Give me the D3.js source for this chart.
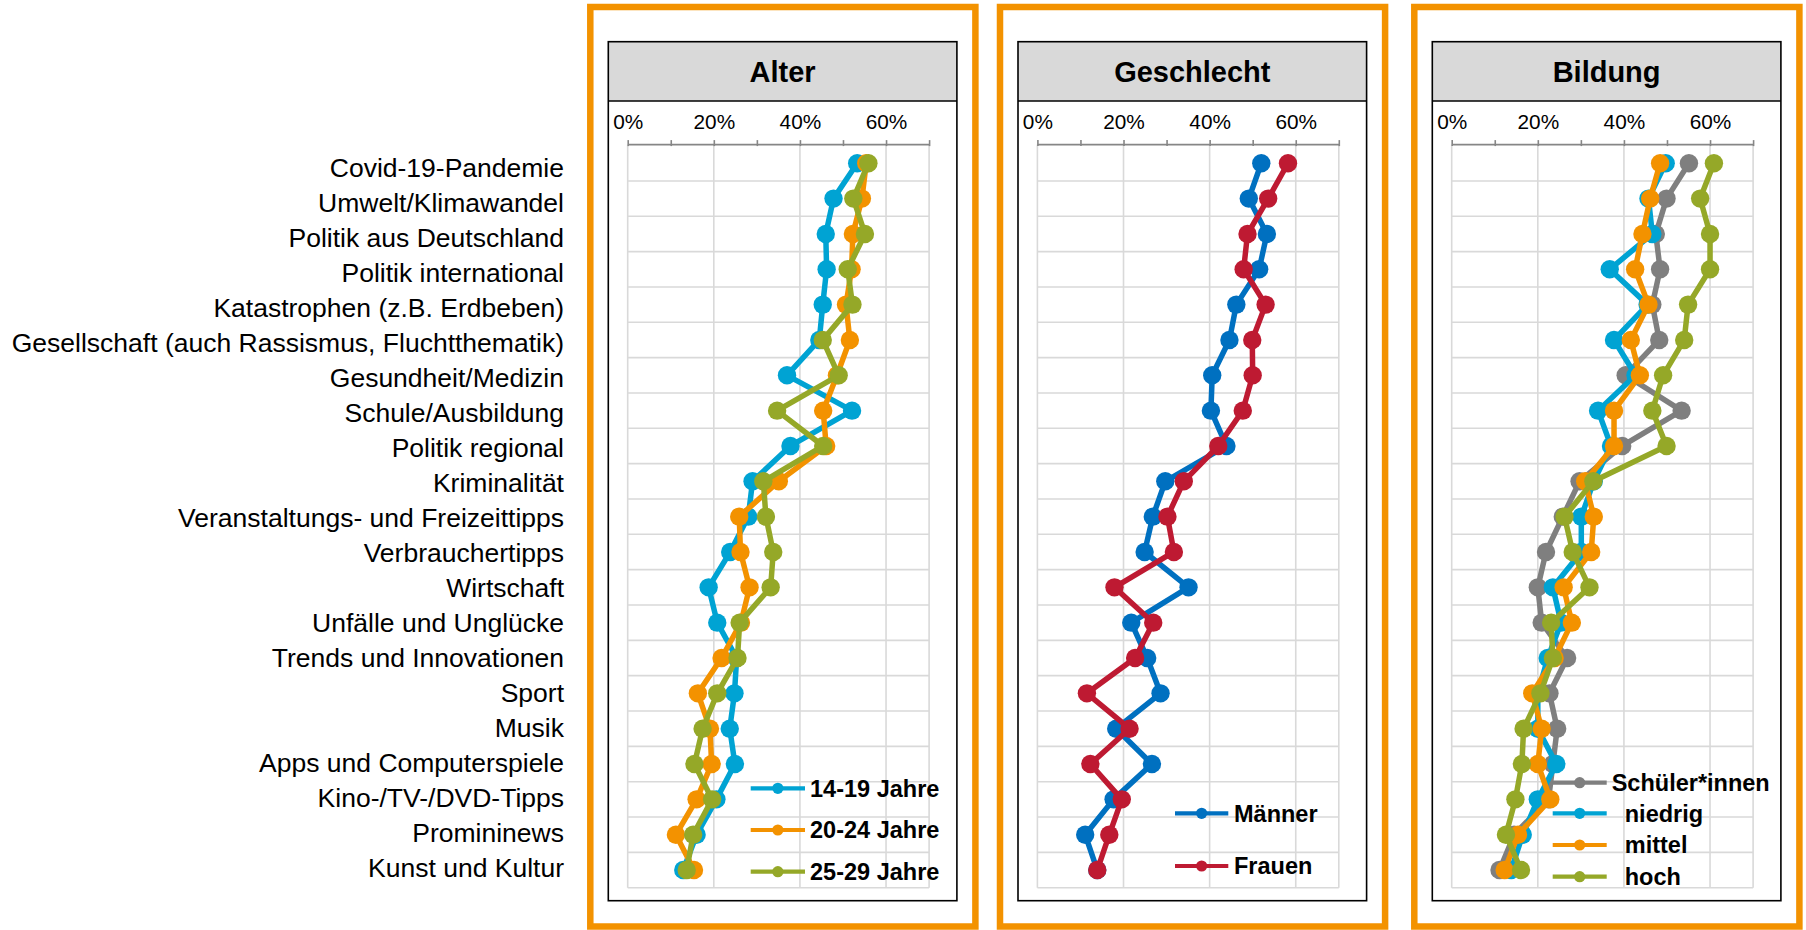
<!DOCTYPE html>
<html lang="de">
<head>
<meta charset="utf-8">
<title>Themeninteressen nach Alter, Geschlecht und Bildung</title>
<script src="https://cdn.jsdelivr.net/npm/d3@7"></script>
<style>
  html, body { margin: 0; padding: 0; background: #ffffff; }
  svg { display: block; font-family: "Liberation Sans", Arial, sans-serif; }
</style>
</head>
<body>
<svg id="chart" width="1806" height="930"></svg>
<script>
// Themen (Zeilen, von oben nach unten)
const categories = [
  "Covid-19-Pandemie",
  "Umwelt/Klimawandel",
  "Politik aus Deutschland",
  "Politik international",
  "Katastrophen (z.B. Erdbeben)",
  "Gesellschaft (auch Rassismus, Fluchtthematik)",
  "Gesundheit/Medizin",
  "Schule/Ausbildung",
  "Politik regional",
  "Kriminalität",
  "Veranstaltungs- und Freizeittipps",
  "Verbrauchertipps",
  "Wirtschaft",
  "Unfälle und Unglücke",
  "Trends und Innovationen",
  "Sport",
  "Musik",
  "Apps und Computerspiele",
  "Kino-/TV-/DVD-Tipps",
  "Promininews",
  "Kunst und Kultur"
];

// Achsenbeschriftung
const tickValues = [0, 10, 20, 30, 40, 50, 60, 70];
const tickLabels = ["0%", "", "20%", "", "40%", "", "60%", ""];
const panelTitles = ["Alter", "Geschlecht", "Bildung"];

// Alter (Anteil in %)
const alter1419 = [53.3, 47.8, 46.0, 46.2, 45.3, 44.5, 37.0, 52.1, 37.8, 29.0, 28.0, 23.8, 18.8, 20.8, 25.3, 24.8, 23.7, 24.9, 20.6, 16.0, 12.9];
const alter2024 = [55.4, 54.4, 52.3, 52.0, 50.7, 51.6, 48.6, 45.4, 46.1, 35.1, 25.9, 26.2, 28.3, 26.3, 21.8, 16.3, 19.1, 19.5, 16.0, 11.2, 15.4];
const alter2529 = [55.9, 52.4, 55.1, 51.1, 52.2, 45.3, 49.0, 34.7, 45.4, 31.5, 32.1, 33.8, 33.2, 26.0, 25.5, 20.8, 17.4, 15.5, 19.6, 15.2, 13.7];

// Geschlecht (Anteil in %)
const maenner = [52.0, 49.1, 53.3, 51.5, 46.2, 44.6, 40.6, 40.3, 43.9, 29.7, 26.8, 24.9, 35.1, 21.8, 25.5, 28.6, 18.3, 26.6, 17.7, 11.1, 13.9];
const frauen  = [58.2, 53.6, 48.8, 47.9, 53.0, 49.9, 50.0, 47.7, 42.0, 34.0, 30.2, 31.7, 17.9, 26.9, 22.7, 11.5, 21.4, 12.3, 19.6, 16.7, 13.9];

// Bildung (Anteil in %)
const schueler = [55.1, 49.9, 47.4, 48.4, 46.6, 48.2, 40.4, 53.4, 39.6, 29.7, 25.8, 21.9, 20.0, 20.9, 26.8, 22.7, 24.5, 23.5, 22.5, 14.5, 11.1];
const niedrig  = [49.7, 45.7, 46.6, 36.7, 45.5, 37.7, 42.7, 34.0, 37.0, 33.0, 30.1, 30.1, 23.5, 25.4, 22.3, 20.0, 20.0, 24.3, 20.0, 16.5, 13.8];
const mittel   = [48.4, 46.1, 44.3, 42.6, 45.7, 41.6, 43.7, 37.7, 37.7, 31.0, 33.0, 32.4, 26.0, 27.9, 23.9, 18.7, 20.9, 20.0, 22.9, 15.4, 12.3];
const hoch     = [60.9, 57.7, 60.0, 60.0, 54.9, 54.0, 49.1, 46.6, 49.9, 32.9, 26.2, 28.1, 32.0, 23.1, 23.5, 20.6, 16.7, 16.3, 14.8, 12.6, 16.1];

// Serienbezeichnungen und Farben
const alterNames   = ["14-19 Jahre", "20-24 Jahre", "25-29 Jahre"];
const alterColors  = ["#00a3d3", "#f39200", "#95a828"];
const geschlechtNames  = ["Männer", "Frauen"];
const geschlechtColors = ["#0070c0", "#be1a32"];
const bildungNames  = ["Schüler*innen", "  niedrig", "  mittel", "  hoch"];
const bildungColors = ["#7f7f7f", "#00a3d3", "#f39200", "#95a828"];

const panels = [
  { title: panelTitles[0], names: alterNames, colors: alterColors, values: [alter1419, alter2024, alter2529],
    boxLeft: 608.3, legend: { x1: 142.4, x2: 196.7, tx: 201.7, ys: [788.3, 830, 871.7] } },
  { title: panelTitles[1], names: geschlechtNames, colors: geschlechtColors, values: [maenner, frauen],
    boxLeft: 1018, legend: { x1: 157, x2: 210.3, tx: 216, ys: [813.3, 866] } },
  { title: panelTitles[2], names: bildungNames, colors: bildungColors, values: [schueler, niedrig, mittel, hoch],
    boxLeft: 1432.3, legend: { x1: 120.4, x2: 174.4, tx: 179.4, ys: [782.7, 813.3, 845, 876.7] } }
];

const svg = d3.select("#chart");
const frameColor = "#f39200";
const gridColor = "#d9d9d9";

const boxW = 348.6, boxTop = 41.7, headerBottom = 101, boxBottom = 900.7;
const plotTop = 145.6, plotBottom = 887.7;

const y = d3.scaleBand().domain(categories).range([plotTop, plotBottom]).paddingInner(0).paddingOuter(0);
const yc = d => y(d) + y.bandwidth() / 2;

// Themenbeschriftung links (eigene Spalte, gleichmäßig verteilt)
const yLabel = d3.scalePoint().domain(categories).range([167.5, 867.5]);
svg.append("g").selectAll("text")
  .data(categories).join("text")
  .attr("x", 564)
  .attr("y", d => yLabel(d))
  .attr("dy", "0.35em")
  .attr("text-anchor", "end")
  .attr("font-size", 26.5)
  .attr("fill", "#000")
  .text(d => d);

panels.forEach(p => {
  const g = svg.append("g");
  const L = p.boxLeft;
  const x = d3.scaleLinear().domain([0, 70]).range([L + 19.4, L + 19.4 + 301.4]);

  // orangefarbener Rahmen
  g.append("rect")
    .attr("x", L - 18).attr("y", 7)
    .attr("width", boxW + 36.5).attr("height", 919.5)
    .attr("fill", "none").attr("stroke", frameColor).attr("stroke-width", 6.5);

  // Kopfzeile
  g.append("rect")
    .attr("x", L).attr("y", boxTop)
    .attr("width", boxW).attr("height", headerBottom - boxTop)
    .attr("fill", "#d9d9d9");
  g.append("text")
    .attr("x", L + boxW / 2).attr("y", (boxTop + headerBottom) / 2)
    .attr("dy", "0.35em").attr("text-anchor", "middle")
    .attr("font-size", 29).attr("font-weight", "bold")
    .text(p.title);

  // Gitternetz
  const grid = g.append("g");
  grid.selectAll("line.h")
    .data(categories.slice(1).map(c => y(c)).concat([plotBottom]))
    .join("line")
    .attr("x1", x(0)).attr("x2", x(70))
    .attr("y1", d => d).attr("y2", d => d)
    .attr("stroke", gridColor).attr("stroke-width", 1.6);
  grid.selectAll("line.v")
    .data([0, 20, 40, 60, 70])
    .join("line")
    .attr("x1", d => x(d)).attr("x2", d => x(d))
    .attr("y1", plotTop - 1).attr("y2", plotBottom)
    .attr("stroke", gridColor).attr("stroke-width", 1.6);

  // x-Achse oben
  const axis = d3.axisTop(x)
    .tickValues(tickValues)
    .tickFormat((d, i) => tickLabels[i])
    .tickSize(4)
    .tickPadding(11)
    .tickSizeOuter(0);
  const ag = g.append("g").attr("transform", `translate(0,${plotTop - 1.5})`).call(axis);
  ag.select(".domain").attr("stroke", "#868686").attr("stroke-width", 1.6);
  ag.selectAll(".tick line").attr("stroke", "#868686").attr("stroke-width", 1.6).attr("y2", -4).attr("y1", 2);
  ag.selectAll(".tick text")
    .attr("font-size", 20.8)
    .attr("font-family", "'Liberation Sans', Arial, sans-serif")
    .attr("fill", "#000");

  // Rahmen des Diagramms
  g.append("rect")
    .attr("x", L).attr("y", boxTop)
    .attr("width", boxW).attr("height", boxBottom - boxTop)
    .attr("fill", "none").attr("stroke", "#000").attr("stroke-width", 1.6);
  g.append("line")
    .attr("x1", L).attr("x2", L + boxW)
    .attr("y1", headerBottom).attr("y2", headerBottom)
    .attr("stroke", "#000").attr("stroke-width", 1.6);

  // Linien mit Markern
  const line = d3.line()
    .x(d => x(d.v))
    .y(d => yc(d.c));
  p.values.forEach((vals, si) => {
    const pts = vals.map((v, i) => ({ v, c: categories[i] }));
    const sg = g.append("g");
    sg.append("path")
      .datum(pts)
      .attr("d", line)
      .attr("fill", "none")
      .attr("stroke", p.colors[si])
      .attr("stroke-width", 5.5)
      .attr("stroke-linejoin", "round");
    sg.selectAll("circle")
      .data(pts).join("circle")
      .attr("cx", d => x(d.v))
      .attr("cy", d => yc(d.c))
      .attr("r", 9.2)
      .attr("fill", p.colors[si]);
  });

  // Legende
  const lg = g.append("g");
  p.names.forEach((name, si) => {
    const ly = p.legend.ys[si];
    lg.append("line")
      .attr("x1", L + p.legend.x1).attr("x2", L + p.legend.x2)
      .attr("y1", ly).attr("y2", ly)
      .attr("stroke", p.colors[si]).attr("stroke-width", 4.2);
    lg.append("circle")
      .attr("cx", L + (p.legend.x1 + p.legend.x2) / 2).attr("cy", ly)
      .attr("r", 5.6).attr("fill", p.colors[si]);
    lg.append("text")
      .attr("x", L + p.legend.tx).attr("y", ly)
      .attr("dy", "0.35em")
      .attr("font-size", 23.5).attr("font-weight", "bold")
      .style("white-space", "pre")
      .text(name);
  });
});
</script>
</body>
</html>
